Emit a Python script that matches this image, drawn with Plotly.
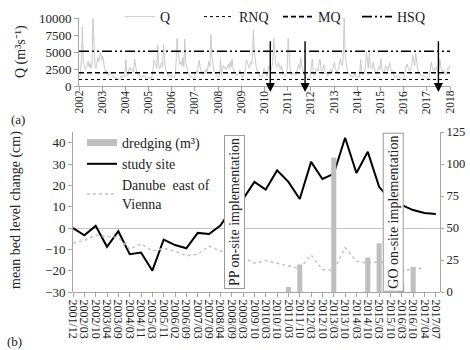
import plotly.graph_objects as go

FONT = "Liberation Serif"

# ---------------- panel (a): discharge ----------------
year_ticks = list(range(2002, 2019))
# half-monthly discharge estimates (m3/s), 24 values per year
q_2002 = [1300, 1800, 4000, 8700, 3500, 2800, 2400, 2600, 3000, 3600, 2800, 3300, 2600, 3400, 10000, 4500, 3000, 2600, 3200, 4200, 3600, 4600, 4800, 3800]
q_2003 = [4400, 3200, 2600, 2000, 2300, 1800, 1600, 2100, 1800, 1700, 1500, 1400, 1300, 1200, 1100, 1000, 1000, 950, 1100, 1500, 1200, 1400, 1600, 1300]
q_2004 = [3900, 1800, 1500, 2200, 2800, 2300, 2500, 2200, 2000, 4000, 2700, 2200, 1900, 1700, 1500, 1400, 1300, 1300, 1600, 1400, 1300, 1200, 1100, 1200]
q_2005 = [1200, 1300, 1100, 1400, 2200, 3800, 3500, 3000, 2600, 6000, 3000, 2500, 3200, 3500, 2800, 6100, 4000, 2500, 2200, 1700, 1500, 1400, 1300, 1500]
q_2006 = [1200, 1100, 1200, 1600, 3500, 7000, 5000, 3800, 3200, 3600, 3000, 4200, 2800, 6900, 3500, 2800, 2200, 1800, 1500, 1400, 1300, 1200, 1100, 1200]
q_2007 = [1500, 2200, 1800, 3200, 3800, 2600, 2000, 1800, 1600, 2200, 1900, 2500, 2100, 2800, 3600, 2800, 7600, 4500, 2800, 2200, 1900, 1700, 1500, 1400]
q_2008 = [1300, 1600, 4000, 1500, 2500, 3000, 2600, 2800, 2400, 2900, 3200, 2600, 3600, 2800, 4000, 2500, 2200, 2000, 1800, 1600, 1700, 2000, 2400, 1700]
q_2009 = [1300, 1200, 1600, 2000, 3000, 3800, 3300, 2800, 2600, 3500, 3200, 4100, 8200, 5000, 3500, 2700, 2200, 1800, 1600, 1500, 1400, 1300, 1800, 2600]
q_2010 = [2200, 1600, 1400, 2300, 2900, 2500, 2300, 2700, 3600, 7000, 4000, 3200, 2800, 3000, 3400, 2600, 2400, 3000, 2000, 1700, 1600, 1500, 2000, 2500]
q_2011 = [7000, 4500, 2500, 1800, 1600, 2000, 1800, 1700, 1600, 2200, 2600, 3200, 2500, 4200, 3000, 2400, 1900, 1600, 1400, 1300, 1100, 1000, 1100, 1600]
q_2012 = [3000, 4000, 2000, 1500, 1800, 2600, 2400, 2200, 3400, 4000, 2400, 2200, 2600, 3100, 2200, 1800, 1600, 1500, 1800, 2200, 2400, 1900, 2500, 3200]
q_2013 = [3500, 2400, 2200, 2000, 2600, 3600, 4000, 3200, 3000, 4200, 10000, 4500, 3000, 2400, 2000, 1700, 1600, 1500, 1400, 1300, 1500, 1800, 1500, 1300]
q_2014 = [1400, 1200, 1600, 3900, 2200, 1800, 1700, 1900, 2800, 5000, 3200, 2600, 4900, 3000, 2700, 2500, 3500, 2400, 2000, 1700, 2200, 2600, 2800, 2400]
q_2015 = [4000, 2600, 2000, 1800, 2400, 3000, 2600, 2200, 2800, 3400, 2600, 2300, 2000, 1700, 1400, 1200, 1300, 1500, 1400, 1200, 1100, 1000, 1000, 950]
q_2016 = [1300, 2200, 2800, 3200, 2600, 2400, 2200, 2800, 3000, 4500, 3500, 3000, 4800, 3200, 2600, 2200, 1800, 1600, 1500, 1400, 1600, 1500, 1300, 1100]
q_2017 = [1000, 950, 1400, 2600, 3500, 2800, 2400, 2200, 2600, 2800, 2400, 2100, 2500, 4000, 2800, 2200, 2000, 2400, 1800, 1600, 2000, 2600, 2400, 3000]
q_by_year = [q_2002, q_2003, q_2004, q_2005, q_2006, q_2007, q_2008, q_2009,
             q_2010, q_2011, q_2012, q_2013, q_2014, q_2015, q_2016, q_2017]

RNQ = 950
MQ = 1950
HSQ = 5100
arrow_years = [2010.25, 2011.75, 2017.5]
arrow_top = 6800
arrow_tip = -900

# ---------------- panel (b): bed level ----------------
survey_labels = ["2001/12", "2002/03", "2002/10", "2003/04", "2003/09", "2004/03", "2004/11",
                 "2005/03", "2005/11", "2006/02", "2006/09", "2007/03", "2007/09", "2008/04",
                 "2008/09", "2009/03", "2009/10", "2010/03", "2010/10", "2011/03", "2011/10",
                 "2012/03", "2012/10", "2013/03", "2013/10", "2014/03", "2014/10", "2015/03",
                 "2015/10", "2016/03", "2016/10", "2017/04", "2017/07"]
study_site = [0, -3.4, 1, -8.8, -1.5, -12.3, -11.5, -20, -5.4, -8, -9.5, -2.3, -2.8, 1.2, 9,
              13.6, 21.6, 18, 27, 21.6, 13.6, 31, 23, 25.4, 42.3, 25.8, 35.7, 19.3, 13.1,
              10.8, 8.4, 7, 6.6]
danube_east = [-7, -5.8, -3.4, -4, -4.5, -10, -7.4, -10.8, -9.5, -10.8, -13, -12.3, -8.5,
               -10.8, -11, -14, -16.5, -15.3, -16.5, -18, -19, -12.7, -19.5, -19.7, -9.2,
               -15.5, -16.5, -15.8, -16.5, -20.5, -19, -18.8, None]
dredging = [None] * 19 + [4, 21.5, None, None, 105, None, None, 27, 38, None, 6, 19.5, None, None]
event_labels = ["PP on-site implementation", "GO on-site implementation"]
event_pos = [14.2, 28.2]

left_ticks = [-30, -20, -10, 0, 10, 20, 30, 40]
right_ticks = [0, 25, 50, 75, 100, 125]
q_ticks = [0, 2500, 5000, 7500, 10000]

# ---------------- figure ----------------
W, H = 470, 350
def px_x(p):
    return p / W
def px_y(p):
    return 1 - p / H

q_values = [v for yr in q_by_year for v in yr]
q_time = [2002 + (i + 0.5) / 24 for i in range(len(q_values))]
idx = list(range(len(survey_labels)))

fig = go.Figure()

AX = "#a6a6a6"
TXT = "#222"

fig.add_trace(go.Scatter(x=q_time, y=q_values, mode="lines", name="Q",
                         line=dict(color="#cacaca", width=1), xaxis="x", yaxis="y",
                         legend="legend"))
fig.add_trace(go.Scatter(x=[2002, 2018], y=[RNQ, RNQ], mode="lines", name="RNQ",
                         line=dict(color="black", width=1, dash="dot"), xaxis="x", yaxis="y",
                         legend="legend"))
fig.add_trace(go.Scatter(x=[2002, 2018], y=[MQ, MQ], mode="lines", name="MQ",
                         line=dict(color="black", width=1.6, dash="5px,3px"), xaxis="x", yaxis="y",
                         legend="legend"))
fig.add_trace(go.Scatter(x=[2002, 2018], y=[HSQ, HSQ], mode="lines", name="HSQ",
                         line=dict(color="black", width=1.6, dash="10px,3px,2px,3px,2px,3px"),
                         xaxis="x", yaxis="y", legend="legend"))

# bottom panel
fig.add_trace(go.Bar(x=idx, y=dredging, width=0.45, marker=dict(color="#bfbfbf", line=dict(width=0)),
                     xaxis="x2", yaxis="y3", showlegend=False, name="dredging (m³)"))
fig.add_trace(go.Scatter(x=[None], y=[None], mode="lines", name="dredging (m³)",
                         line=dict(color="#bfbfbf", width=7), xaxis="x2", yaxis="y2",
                         legend="legend2"))
fig.add_trace(go.Scatter(x=idx, y=study_site, mode="lines", name="study site",
                         line=dict(color="black", width=2), xaxis="x2", yaxis="y2",
                         legend="legend2"))
fig.add_trace(go.Scatter(x=idx, y=danube_east, mode="lines", name="Danube  east of<br>Vienna",
                         line=dict(color="#c4c4c4", width=1.5, dash="dot"), xaxis="x2", yaxis="y2",
                         legend="legend2", connectgaps=False))

annotations = []
# year labels of panel (a), rotated so they read bottom-to-top
for yr in year_ticks:
    annotations.append(dict(x=yr, y=px_y(89), xref="x", yref="paper", text=str(yr),
                            textangle=-90, xanchor="center", yanchor="top", showarrow=False,
                            font=dict(family=FONT, size=11.5, color=TXT)))
for ay in arrow_years:
    annotations.append(dict(x=ay, y=arrow_tip, ax=ay, ay=arrow_top, xref="x", yref="y",
                            axref="x", ayref="y", showarrow=True, arrowhead=2, arrowsize=1.3,
                            arrowwidth=1.4, arrowcolor="black", text=""))
for lab, pos in zip(event_labels, event_pos):
    annotations.append(dict(x=pos, y=0.5, xref="x2", yref="y2 domain", text=lab, textangle=-90,
                            xanchor="center", yanchor="middle",
                            showarrow=False, font=dict(family=FONT, size=14, color=TXT),
                            bordercolor="#9a9a9a", borderwidth=1, borderpad=2,
                            bgcolor="white"))
annotations += [
    dict(x=px_x(21), y=px_y(52), xref="paper", yref="paper", text="Q (m³s⁻¹)", textangle=-90,
         xanchor="center", yanchor="middle",
         showarrow=False, font=dict(family=FONT, size=14, color=TXT)),
    dict(x=px_x(16), y=px_y(210), xref="paper", yref="paper", text="mean bed level change (cm)",
         xanchor="center", yanchor="middle",
         textangle=-90, showarrow=False, font=dict(family=FONT, size=14, color=TXT)),
    dict(x=px_x(18), y=px_y(119), xref="paper", yref="paper", text="(a)", showarrow=False,
         xanchor="center", yanchor="middle", font=dict(family=FONT, size=13, color=TXT)),
    dict(x=px_x(15), y=px_y(341), xref="paper", yref="paper", text="(b)", showarrow=False,
         xanchor="center", yanchor="middle", font=dict(family=FONT, size=13, color=TXT)),
]

tickfont = dict(family=FONT, size=13, color=TXT)

fig.update_layout(
    width=W, height=H,
    margin=dict(l=0, r=0, t=0, b=0, autoexpand=False),
    paper_bgcolor="white", plot_bgcolor="white",
    font=dict(family=FONT, color=TXT),
    barmode="overlay",
    xaxis=dict(domain=[px_x(79), px_x(450)], range=[2002, 2018], tickvals=year_ticks,
               showticklabels=False,
               showline=True, linecolor=AX, ticks="outside", ticklen=4, tickcolor=AX,
               showgrid=False, zeroline=False, anchor="y"),
    yaxis=dict(domain=[px_y(86), px_y(18)], range=[0, 10000], tickvals=q_ticks, tickformat="d",
               tickfont=tickfont, showline=True, linecolor=AX, ticks="outside", ticklen=4,
               tickcolor=AX, showgrid=False, zeroline=False, anchor="x"),
    xaxis2=dict(domain=[px_x(73), px_x(440)], range=[0, 32.37], tickvals=idx,
                ticktext=survey_labels, tickangle=90,
                tickfont=dict(family=FONT, size=12, color=TXT),
                showline=False, ticks="outside", ticklen=4, tickcolor=AX,
                showgrid=False, zeroline=False, anchor="y2"),
    yaxis2=dict(domain=[px_y(292), px_y(132)], range=[-30, 45], tickvals=left_ticks,
                tickfont=tickfont, showline=True, linecolor=AX, ticks="outside", ticklen=4,
                tickcolor=AX, showgrid=False, zeroline=True, zerolinecolor="#c4c4c4",
                zerolinewidth=1, anchor="x2"),
    yaxis3=dict(domain=[px_y(292), px_y(132)], range=[0, 125], tickvals=right_ticks,
                overlaying="y2", side="right", anchor="x2",
                tickfont=dict(family=FONT, size=12.5, color=TXT),
                showline=True, linecolor=AX, ticks="outside", ticklen=3, tickcolor=AX,
                showgrid=False, zeroline=True, zerolinecolor=AX, zerolinewidth=1),
    legend=dict(orientation="h", x=px_x(120), y=px_y(17), xanchor="left", yanchor="middle",
                font=dict(family=FONT, size=14, color=TXT), bgcolor="rgba(0,0,0,0)",
                entrywidth=34, entrywidthmode="pixels", itemwidth=30),
    legend2=dict(orientation="v", x=px_x(82), y=px_y(127), xanchor="left", yanchor="top",
                 font=dict(family=FONT, size=14, color=TXT), bgcolor="rgba(0,0,0,0)",
                 itemwidth=30, tracegroupgap=0),
    annotations=annotations,
)

fig.write_html("out.html", config={"displayModeBar": False},
               post_script="document.body.style.margin='0';document.body.style.overflow='hidden';")
